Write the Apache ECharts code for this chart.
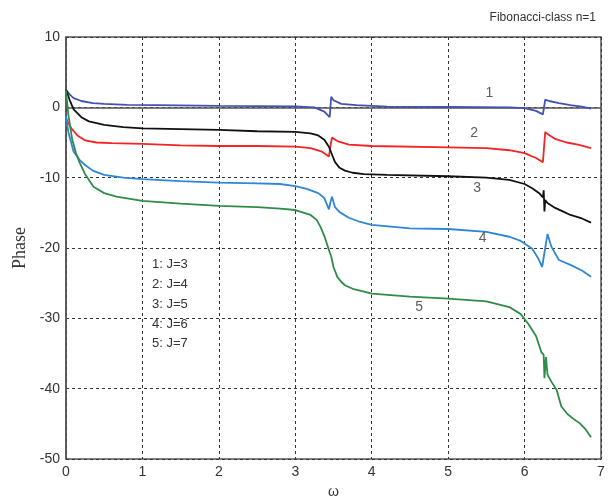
<!DOCTYPE html>
<html lang="en">
  <head>
    <meta charset="UTF-8" />
    <title>Fibonacci-class phase</title>
    <script src="https://cdn.jsdelivr.net/npm/echarts@6.0.0/dist/echarts.min.js"></script>
  </head>
  <style>
    html,
    body {
      margin: 0;
      padding: 0;
      background: #fff;
    }
    #chart {
      width: 615px;
      height: 504px;
    }
  </style>
  <body>
    <div id="chart"></div>
  </body>
  <script>
    // curve 1: J=3
    const w1 = [0, 0.05, 0.1, 0.2, 0.35, 0.5, 0.8, 1.2, 2, 3, 3.25, 3.38, 3.45, 3.47, 3.5, 3.6, 3.8, 4.2, 5, 5.8, 6.0, 6.15, 6.24, 6.27, 6.32, 6.45, 6.6, 6.75, 6.87];
    const p1 = [2.5, 1.8, 1.3, 0.9, 0.6, 0.5, 0.35, 0.3, 0.2, 0.15, 0.0, -0.6, -1.4, 1.5, 1.0, 0.5, 0.3, 0.1, 0.05, 0.0, -0.1, -0.5, -1.0, 1.1, 0.9, 0.6, 0.3, 0.1, -0.2];
    // curve 2: J=4
    const w2 = [0, 0.03, 0.07, 0.15, 0.25, 0.4, 0.6, 1, 1.5, 2, 2.5, 3, 3.2, 3.35, 3.44, 3.46, 3.48, 3.55, 3.7, 4, 5, 5.5, 5.8, 6.0, 6.15, 6.24, 6.27, 6.3, 6.4, 6.55, 6.7, 6.87];
    const p2 = [-1.5, -2.2, -3.0, -4.0, -4.7, -5.0, -5.1, -5.2, -5.4, -5.5, -5.5, -5.6, -5.8, -6.3, -7.0, -5.5, -4.3, -4.8, -5.3, -5.5, -5.7, -5.8, -6.1, -6.5, -7.2, -7.8, -3.5, -3.8, -4.5, -5.0, -5.3, -5.8];
    // curve 3: J=5
    const w3 = [0, 0.05, 0.1, 0.2, 0.3, 0.5, 0.75, 1, 1.5, 2, 2.5, 3, 3.2, 3.3, 3.38, 3.44, 3.48, 3.52, 3.58, 3.65, 3.75, 3.9, 4.2, 5, 5.5, 5.8, 6.0, 6.1, 6.2, 6.24, 6.25, 6.26, 6.27, 6.3, 6.4, 6.5, 6.6, 6.75, 6.87];
    const p3 = [2.5, 1.0, -0.3, -1.4, -2.0, -2.5, -2.8, -3.0, -3.1, -3.2, -3.4, -3.5, -3.7, -4.0, -4.6, -5.6, -6.7, -7.8, -8.6, -9.0, -9.3, -9.5, -9.6, -9.8, -10.0, -10.3, -10.9, -11.5, -12.3, -12.8, -11.8, -14.8, -13.2, -13.6, -14.3, -14.8, -15.3, -15.8, -16.4];
    // curve 4: J=6
    const w4 = [0, 0.03, 0.1, 0.18, 0.25, 0.35, 0.5, 0.75, 1, 1.5, 2, 2.5, 2.8, 3, 3.15, 3.3, 3.38, 3.44, 3.46, 3.48, 3.52, 3.58, 3.7, 3.85, 4, 4.5, 5, 5.5, 5.8, 5.95, 6.1, 6.18, 6.23, 6.27, 6.3, 6.35, 6.45, 6.6, 6.75, 6.87];
    const p4 = [-1.2, -3.5, -6.3, -7.5, -8.2, -9.0, -9.6, -10.0, -10.2, -10.5, -10.7, -10.8, -10.9, -11.2, -11.6, -12.2, -12.9, -14.5, -13.5, -12.7, -14.2, -14.9, -15.7, -16.3, -16.7, -17.2, -17.3, -17.7, -18.4, -19.0, -20.1, -21.5, -22.7, -20.0, -18.0, -19.8, -21.7, -22.4, -23.2, -24.1];
    // curve 5: J=7
    const w5 = [0, 0.03, 0.08, 0.13, 0.18, 0.25, 0.36, 0.5, 0.66, 1, 1.5, 2, 2.5, 2.8, 3, 3.2, 3.28, 3.33, 3.38, 3.42, 3.45, 3.47, 3.5, 3.55, 3.6, 3.65, 3.75, 3.9, 4, 4.5, 5, 5.5, 5.8, 5.95, 6.05, 6.15, 6.22, 6.25, 6.26, 6.28, 6.3, 6.35, 6.42, 6.48, 6.56, 6.64, 6.72, 6.8, 6.87];
    const p5 = [2.4, -1.0, -4.5, -6.5, -7.9, -9.5, -11.3, -12.2, -12.7, -13.3, -13.7, -14.0, -14.2, -14.4, -14.6, -15.3, -16.0, -17.0, -18.3, -19.6, -20.6, -21.2, -22.7, -24.1, -24.8, -25.3, -25.8, -26.2, -26.5, -26.9, -27.2, -27.6, -28.4, -29.4, -30.8, -32.5, -34.8, -35.2, -38.5, -35.5, -38.0, -39.0, -40.2, -42.5, -43.6, -44.3, -44.9, -45.8, -46.9];

    const curveTags = ["1", "2", "3", "4", "5"];
    const tagW = [5.54, 5.34, 5.38, 5.45, 4.62];
    const tagP = [2.0, -3.7, -11.5, -18.6, -28.4];
    const legendLines = ["1: J=3", "2: J=4", "3: J=5", "4: J=6", "5: J=7"];
    const colors = ["#4352b0", "#f42424", "#111111", "#2f86d4", "#2f8c48"];

    const ws = [w1, w2, w3, w4, w5];
    const ps = [p1, p2, p3, p4, p5];

    const chart = echarts.init(document.getElementById("chart"));

    const lineSeries = ws.map((w, i) => ({
      type: "line",
      name: legendLines[i],
      data: w.map((x, k) => [x, ps[i][k]]),
      showSymbol: false,
      smooth: false,
      lineStyle: { color: colors[i], width: 1.8 },
      z: 3,
    }));

    const option = {
      backgroundColor: "#fff",
      animation: false,
      title: {
        text: "Fibonacci-class n=1",
        right: 14,
        top: 7,
        textStyle: {
          fontFamily: "Liberation Sans",
          fontWeight: "normal",
          fontSize: 12,
          color: "#333",
        },
      },
      grid: {
        left: 66,
        right: 14,
        top: 37,
        bottom: 45,
        show: true,
        borderColor: "#555",
        borderWidth: 1.5,
      },
      xAxis: {
        type: "value",
        min: 0,
        max: 7,
        interval: 1,
        name: "ω",
        nameLocation: "middle",
        nameGap: 26,
        nameTextStyle: { fontFamily: "Liberation Sans", fontSize: 14, color: "#333" },
        axisLine: { lineStyle: { color: "#555", width: 1.5 } },
        axisTick: { show: false },
        axisLabel: { fontFamily: "Liberation Sans", fontSize: 14, color: "#333", margin: 6 },
        splitLine: { lineStyle: { color: "#333", type: [3, 3], width: 1 } },
      },
      yAxis: {
        type: "value",
        min: -50,
        max: 10,
        interval: 10,
        name: "Phase",
        nameLocation: "middle",
        nameGap: 35,
        nameTextStyle: { fontFamily: "Liberation Serif", fontSize: 18, color: "#333" },
        axisLine: { lineStyle: { color: "#555", width: 1.5 } },
        axisTick: { show: false },
        axisLabel: { fontFamily: "Liberation Sans", fontSize: 14, color: "#333", margin: 6 },
        splitLine: { lineStyle: { color: "#333", type: [3, 3], width: 1 } },
      },
      graphic: [
        {
          type: "text",
          left: 152,
          top: 255,
          style: {
            text: legendLines.join("\n"),
            font: "13px Liberation Sans",
            fill: "#333",
            lineHeight: 19.7,
          },
          z: 10,
        },
      ],
      series: lineSeries.concat([
        {
          type: "scatter",
          symbolSize: 0,
          data: tagW.map((x, i) => ({ value: [x, tagP[i]], name: curveTags[i] })),
          label: {
            show: true,
            position: "inside",
            formatter: "{b}",
            fontFamily: "Liberation Sans",
            fontSize: 14,
            color: "#333",
          },
          z: 5,
        },
      ]),
    };

    chart.setOption(option);
  </script>
</html>
